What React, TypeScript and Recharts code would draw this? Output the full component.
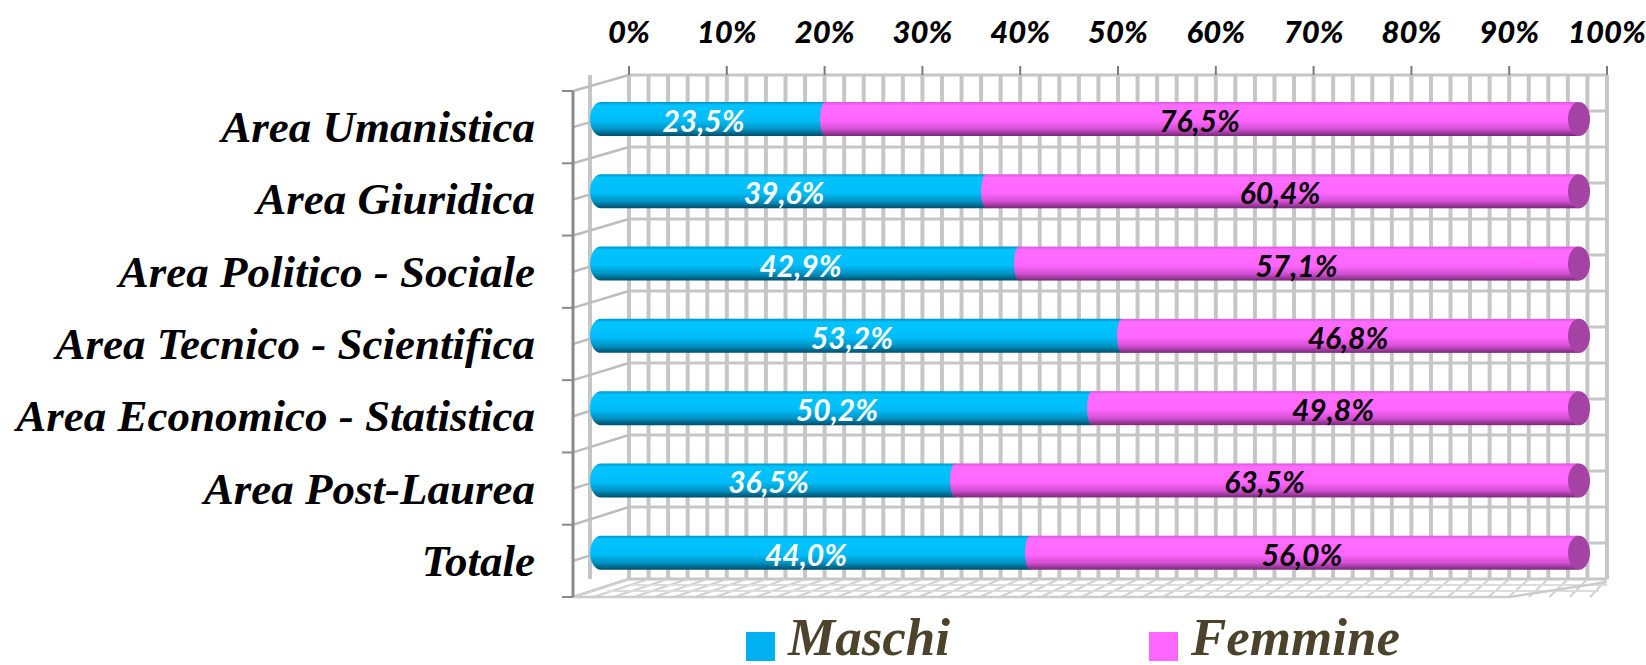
import React from "react";
import {
  Bar,
  BarChart,
  CartesianGrid,
  Customized,
  LabelList,
  Legend,
  XAxis,
  YAxis,
} from "recharts";

const categories = [
  "Area Umanistica",
  "Area Giuridica",
  "Area Politico - Sociale",
  "Area Tecnico - Scientifica",
  "Area Economico - Statistica",
  "Area Post-Laurea",
  "Totale",
];
const maschi = [23.5, 39.6, 42.9, 53.2, 50.2, 36.5, 44.0];
const femmine = [76.5, 60.4, 57.1, 46.8, 49.8, 63.5, 56.0];
const seriesNames = ["Maschi", "Femmine"];
const xTicks = [
  0, 2, 4, 6, 8, 10, 12, 14, 16, 18, 20, 22, 24, 26, 28, 30, 32, 34, 36, 38, 40,
  42, 44, 46, 48, 50, 52, 54, 56, 58, 60, 62, 64, 66, 68, 70, 72, 74, 76, 78,
  80, 82, 84, 86, 88, 90, 92, 94, 96, 98, 100,
];
const rowLines = [0, 1, 2, 3, 4, 5, 6, 7, 8, 9, 10, 11, 12, 13, 14];

const data = categories.map((name, i) => ({
  name,
  maschi: maschi[i],
  femmine: femmine[i],
}));

// layout of the fake 3D box
const W = 1646;
const H = 665;
const TOP = 75; // back wall top
const LEFT = 590; // front plane, 0%
const FRONT_RIGHT = 1590; // front plane, 100%
const RIGHT = 1607; // back wall right
const BOTTOM = 597; // front floor edge
const BACK_LEFT = 629;
const BACK_BOTTOM = 579;
const FRONT_AXIS_X = 573;
const FRONT_TOP = 91;
const CAP = 11;

// bars are placed by the back-wall axis, then projected to the front plane
const proj = (x: number) =>
  LEFT + ((x - BACK_LEFT) * (FRONT_RIGHT - LEFT)) / (RIGHT - BACK_LEFT);

const pct = (v: number) => v.toFixed(1).replace(".", ",") + "%";

const labelFont = "Lato, 'Open Sans', sans-serif";
const serifFont = "'Liberation Serif', 'DejaVu Serif', serif";

const TopTick = (props: any) => {
  const { x, payload } = props;
  const v = payload.value;
  if (v % 10 !== 0) return <g />;
  return (
    <g>
      <line x1={x} x2={x} y1={TOP - 9} y2={TOP} stroke="#7a7a7a" strokeWidth={2} />
      <text
        x={x}
        y={31}
        textAnchor="middle"
        dominantBaseline="central"
        fontFamily={labelFont}
        fontWeight={900}
        fontStyle="italic"
        fontSize={31}
        fill="#000"
      >
        {v}%
      </text>
    </g>
  );
};

const CatTick = (props: any) => {
  const { y, payload } = props;
  return (
    <text
      x={535}
      y={y + 8}
      textAnchor="end"
      dominantBaseline="central"
      fontFamily={serifFont}
      fontWeight={700}
      fontStyle="italic"
      fontSize={45}
      fill="#000"
    >
      {payload.value}
    </text>
  );
};

const MaschiShape = (props: any) => {
  const { x, y, width, height } = props;
  const x0 = proj(x);
  const x1 = proj(x + width);
  const ry = height / 2;
  const d = `M ${x0 + CAP} ${y} L ${x1} ${y} L ${x1} ${y + height} L ${x0 + CAP} ${y + height} A ${CAP} ${ry} 0 0 1 ${x0 + CAP} ${y} Z`;
  return <path d={d} fill="url(#gradBlue)" />;
};

const FemmineShape = (props: any) => {
  const { x, y, width, height } = props;
  const x0 = proj(x);
  const x1 = proj(x + width);
  const ry = height / 2;
  const endX = x1 - CAP;
  return (
    <g>
      <ellipse cx={x0} cy={y + ry} rx={5} ry={ry} fill="url(#gradPink)" />
      <rect x={x0} y={y} width={Math.max(0, endX - x0)} height={height} fill="url(#gradPink)" />
      <ellipse cx={endX} cy={y + ry} rx={CAP} ry={ry} fill="#a543a5" />
    </g>
  );
};

const barLabel = (color: string, shift: number) => (props: any) => {
  const { x, y, width, height, value } = props;
  const cx = (proj(x) + proj(x + width)) / 2;
  return (
    <text
      x={cx + shift}
      y={y + height / 2 + 1}
      textAnchor="middle"
      dominantBaseline="central"
      fontFamily={labelFont}
      fontWeight={700}
      fontStyle="italic"
      fontSize={30}
      fill={color}
    >
      {pct(value)}
    </text>
  );
};

const Frame3D = () => {
  const n = categories.length;
  const frontStep = (BOTTOM - FRONT_TOP) / n;
  const backStep = (BACK_BOTTOM - TOP) / n;
  const side: React.ReactNode[] = [];
  for (let k = 0; k <= n * 2; k++) {
    const yf = FRONT_TOP + (frontStep * k) / 2;
    const yb = TOP + (backStep * k) / 2;
    side.push(
      <line key={"s" + k} x1={FRONT_AXIS_X} y1={yf} x2={BACK_LEFT} y2={yb} stroke="#bdbdbd" strokeWidth={2.5} />
    );
  }
  const ticks: React.ReactNode[] = [];
  for (let k = 0; k <= n; k++) {
    const yf = FRONT_TOP + frontStep * k;
    ticks.push(
      <line key={"t" + k} x1={FRONT_AXIS_X - 11} y1={yf} x2={FRONT_AXIS_X} y2={yf} stroke="#8a8a8a" strokeWidth={2} />
    );
  }
  const floor: React.ReactNode[] = [];
  const backW = RIGHT - BACK_LEFT;
  const frontW = FRONT_RIGHT - FRONT_AXIS_X;
  xTicks.forEach((t) => {
    const xb = BACK_LEFT + (backW * t) / 100;
    const xf = FRONT_AXIS_X + (frontW * t) / 100;
    floor.push(
      <line key={"f" + t} x1={xb} y1={BACK_BOTTOM} x2={xf} y2={BOTTOM} stroke="#d0d0d0" strokeWidth={2} />
    );
  });
  return (
    <g>
      {side}
      {floor}
      <line x1={BACK_LEFT} y1={BACK_BOTTOM + 6} x2={RIGHT} y2={BACK_BOTTOM + 6} stroke="#dcdcdc" strokeWidth={2} />
      <line x1={BACK_LEFT - 20} y1={BACK_BOTTOM + 12} x2={RIGHT - 8} y2={BACK_BOTTOM + 12} stroke="#dcdcdc" strokeWidth={2} />
      <polyline
        points={`${FRONT_AXIS_X},${BOTTOM} ${FRONT_RIGHT - 80},${BOTTOM} ${RIGHT},${BACK_BOTTOM + 3}`}
        fill="none"
        stroke="#cccccc"
        strokeWidth={2.5}
      />
      <line x1={FRONT_AXIS_X} y1={FRONT_TOP} x2={FRONT_AXIS_X} y2={BOTTOM} stroke="#8a8a8a" strokeWidth={3} />
      {ticks}
    </g>
  );
};

const LegendContent = (props: any) => {
  const items = [...(props.payload || [])].sort(
    (a: any, b: any) => seriesNames.indexOf(a.value) - seriesNames.indexOf(b.value)
  );
  const starts = [746, 1149];
  return (
    <svg width={W} height={60} style={{ display: "block" }}>
      {items.map((it: any, i: number) => (
        <g key={it.value}>
          <rect x={starts[i]} y={27} width={29} height={29} fill={it.color} />
          <text
            x={starts[i] + 42}
            y={50}
            fontFamily={serifFont}
            fontWeight={700}
            fontStyle="italic"
            fontSize={53}
            fill="#4b432b"
          >
            {it.value}
          </text>
        </g>
      ))}
    </svg>
  );
};

export default function App() {
  return (
    <div style={{ position: "absolute", left: 0, top: 0, width: W, height: H, background: "#fff" }}>
      <BarChart
        width={W}
        height={H}
        data={data}
        layout="vertical"
        margin={{ top: 0, right: W - RIGHT, bottom: H - BOTTOM, left: 0 }}
        barCategoryGap={0}
      >
        <defs>
          <linearGradient id="gradBlue" x1="0" y1="0" x2="0" y2="1">
            <stop offset="0" stopColor="#0092c4" />
            <stop offset="0.1" stopColor="#00c4ff" />
            <stop offset="0.55" stopColor="#00bdf8" />
            <stop offset="0.8" stopColor="#0092c2" />
            <stop offset="1" stopColor="#004c68" />
          </linearGradient>
          <linearGradient id="gradPink" x1="0" y1="0" x2="0" y2="1">
            <stop offset="0" stopColor="#dc55dc" />
            <stop offset="0.1" stopColor="#ff6cff" />
            <stop offset="0.55" stopColor="#ff66ff" />
            <stop offset="0.8" stopColor="#d24fd2" />
            <stop offset="1" stopColor="#772877" />
          </linearGradient>
        </defs>
        <XAxis
          xAxisId="top"
          orientation="top"
          type="number"
          domain={[0, 100]}
          ticks={xTicks}
          interval={0}
          height={TOP}
          padding={{ left: BACK_LEFT - LEFT, right: 0 }}
          axisLine={false}
          tickLine={false}
          tick={<TopTick />}
        />
        <YAxis
          yAxisId="cat"
          type="category"
          dataKey="name"
          width={LEFT}
          padding={{ top: 8, bottom: 8 }}
          axisLine={false}
          tickLine={false}
          tick={<CatTick />}
          interval={0}
        />
        <CartesianGrid
          xAxisId="top"
          yAxisId="cat"
          x={BACK_LEFT}
          y={TOP}
          width={RIGHT - BACK_LEFT}
          height={BACK_BOTTOM - TOP}
          horizontal={false}
          vertical
          stroke="#c6c6c6"
          strokeWidth={4}
        />
        <CartesianGrid
          xAxisId="top"
          yAxisId="cat"
          x={BACK_LEFT}
          y={TOP}
          width={RIGHT - BACK_LEFT}
          height={BACK_BOTTOM - TOP}
          horizontal
          vertical={false}
          horizontalCoordinatesGenerator={() =>
            rowLines.map((k) => TOP + (k * (BACK_BOTTOM - TOP)) / (rowLines.length - 1))
          }
          stroke="#c6c6c6"
          strokeWidth={3}
        />
        <Customized component={<Frame3D />} />
        <Legend
          layout="horizontal"
          verticalAlign="middle"
          align="center"
          wrapperStyle={{ top: 605, left: 0, width: W }}
          content={<LegendContent />}
        />
        <Bar
          name="Maschi"
          dataKey="maschi"
          stackId="a"
          xAxisId="top"
          yAxisId="cat"
          fill="#00b0f0"
          barSize={34}
          shape={<MaschiShape />}
          isAnimationActive={false}
        >
          <LabelList dataKey="maschi" content={barLabel("#ffffff", -4)} />
        </Bar>
        <Bar
          name="Femmine"
          dataKey="femmine"
          stackId="a"
          xAxisId="top"
          yAxisId="cat"
          fill="#ff66ff"
          barSize={34}
          shape={<FemmineShape />}
          isAnimationActive={false}
        >
          <LabelList dataKey="femmine" content={barLabel("#000000", -8)} />
        </Bar>
      </BarChart>
    </div>
  );
}
